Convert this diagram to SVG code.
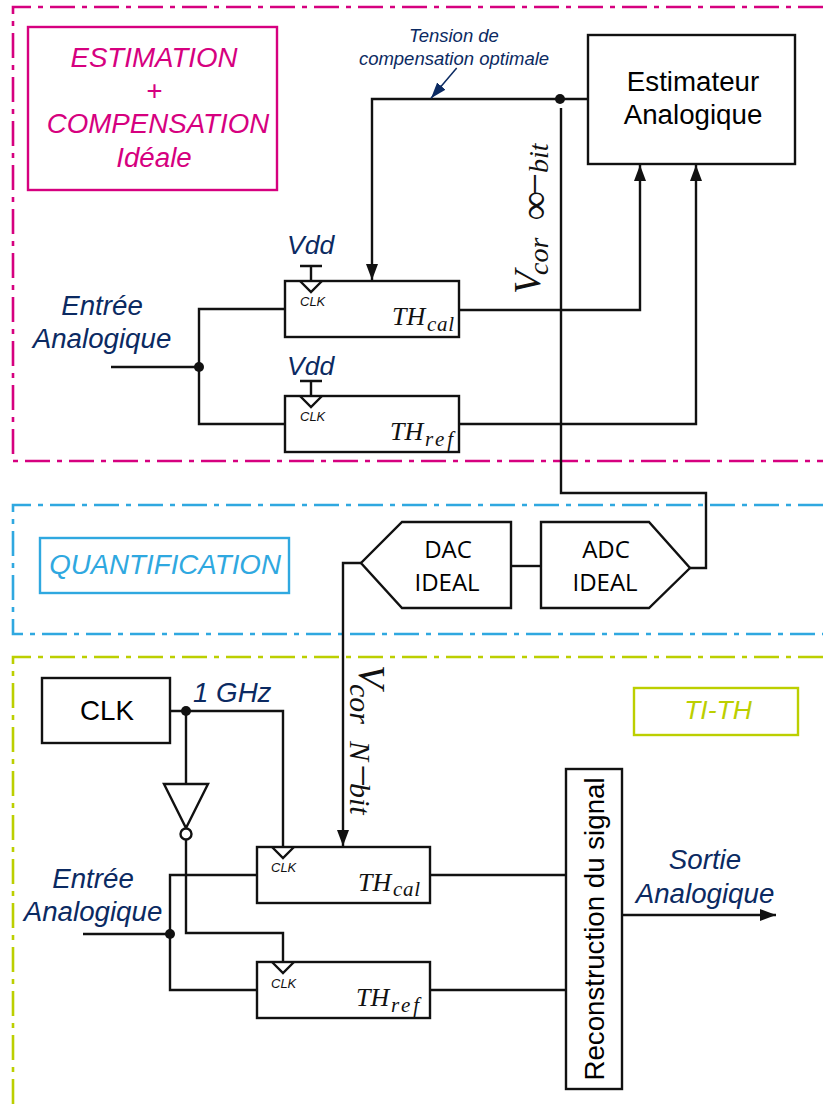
<svg xmlns="http://www.w3.org/2000/svg" width="823" height="1110" viewBox="0 0 823 1110">
<style>
text{font-family:"Liberation Sans",Arial,sans-serif}
.w{fill:none;stroke:#111;stroke-width:2.400}
.b{fill:#fff;stroke:#111;stroke-width:2.400}
.navy{fill:#0b2a62;font-style:italic;font-size:27.700px}
.vdd{font-size:26.500px}
.blk{fill:#000;font-size:27.700px}
.pk{fill:#d6007f;font-style:italic;font-size:27.700px}
.clk{font-size:13px;font-style:italic;fill:#111}
.m{font-family:"Liberation Serif","DejaVu Serif",serif;font-style:italic;fill:#111}
.th{font-size:26px}
.sub{font-size:21px}
.sym{font-size:40px}
.q{font-size:24px;fill:#000}
.d{fill:none;stroke-width:2.600;stroke-dasharray:25 7 5 7}
</style>
<defs>
<marker id="a" markerUnits="userSpaceOnUse" markerWidth="17" markerHeight="14" refX="16" refY="6.500" orient="auto"><path d="M0 0.500L16 6.500L0 12.500Z" fill="#111"/></marker>
<marker id="n" markerUnits="userSpaceOnUse" markerWidth="17" markerHeight="13" refX="16" refY="6" orient="auto"><path d="M0 0.500L16 6L0 11.500Z" fill="#0b2a62"/></marker>
</defs>
<g id="frames">
<path class="d" stroke="#d6007f" d="M823 7H13V461H823"/>
<path class="d" stroke="#2fa8e0" d="M823 505H13V634H823"/>
<path class="d" stroke="#bccf00" d="M823 657H13V1110"/>
</g>
<g id="connectors">
<path class="w" d="M588 99H372V280" marker-end="url(#a)"/>
<path class="w" d="M561 108V493H706V568H690"/>
<path class="w" d="M459 310H640V165" marker-end="url(#a)"/>
<path class="w" d="M459 424H696V165" marker-end="url(#a)"/>
<path class="w" d="M285 309H199V424H285M111 367H199"/>
<path class="w" d="M311 266V281M300 266H322M311 381V396M300 381H322"/>
<path class="w" d="M511 566H541"/>
<path class="w" d="M361 563H343V846" marker-end="url(#a)"/>
<path class="w" d="M170 711H283V847"/>
<path class="w" d="M186 711V784M186 840V933H283V961"/>
<path class="w" d="M257 875H170V990H257M83 934H170"/>
<path class="w" d="M430 875H566M430 990H566"/>
<path class="w" d="M622 915H776" marker-end="url(#a)"/>
<path d="M456.700 68L431 98.300" fill="none" stroke="#0b2a62" stroke-width="1.500" marker-end="url(#n)"/>
<circle cx="560" cy="99" r="5" fill="#111"/>
<circle cx="199" cy="367" r="5" fill="#111"/>
<circle cx="186" cy="711" r="5" fill="#111"/>
<circle cx="170" cy="934" r="5" fill="#111"/>
</g>
<g id="estimation-label"><rect x="28" y="27" width="249" height="163" fill="none" stroke="#d6007f" stroke-width="2.400"/>
<text class="pk" text-anchor="middle" x="154" y="67">ESTIMATION</text><text class="pk" text-anchor="middle" x="154" y="100" font-style="normal">+</text><text class="pk" text-anchor="middle" x="158" y="133">COMPENSATION</text><text class="pk" text-anchor="middle" x="154" y="167">Idéale</text></g>
<g id="estimateur"><rect class="b" x="588" y="35" width="207" height="129"/><text class="blk" text-anchor="middle" x="693" y="91">Estimateur</text><text class="blk" text-anchor="middle" x="693" y="124">Analogique</text></g>
<g id="tension-label"><text class="navy" style="font-size:18.500px" text-anchor="middle" x="454" y="42">Tension de</text><text class="navy" style="font-size:18.500px" text-anchor="middle" x="454" y="65">compensation optimale</text></g>
<g id="vcor-inf"><text class="m" font-size="38" transform="translate(540 294) rotate(-90)">V</text><text class="m" font-size="28" transform="translate(548 275) rotate(-90)"><tspan x="0">cor</tspan><tspan class="sym" x="55">∞</tspan><tspan class="sym" x="77">−</tspan><tspan x="102">bit</tspan></text></g>
<g id="input-top"><text class="navy" text-anchor="middle" x="102" y="315">Entrée</text><text class="navy" text-anchor="middle" x="102" y="348">Analogique</text></g>
<g id="th-cal-top"><rect class="b" x="285" y="281" width="174" height="56"/><path class="w" d="M300 281L311 292L322 281"/><text class="clk" x="300" y="306">CLK</text><text class="m th" x="392" y="325">TH</text><text class="m sub" textLength="27" x="427" y="331">cal</text></g>
<text class="navy vdd" x="287" y="254">Vdd</text>
<g id="th-ref-top"><rect class="b" x="285" y="396" width="174" height="56"/><path class="w" d="M300 396L311 407L322 396"/><text class="clk" x="300" y="421">CLK</text><text class="m th" x="390" y="440">TH</text><text class="m sub" textLength="28" x="425" y="446">ref</text></g>
<text class="navy vdd" x="287" y="375">Vdd</text>
<g id="quant-label"><rect x="40" y="538" width="249" height="55" fill="none" stroke="#2fa8e0" stroke-width="2.400"/><text fill="#2fa8e0" font-style="italic" font-size="27.700" text-anchor="middle" x="165" y="574">QUANTIFICATION</text></g>
<g id="dac"><path class="b" d="M511 522V608H402L361 563L402 522Z"/><text class="q" style="font-family:'Open Sans',sans-serif" text-anchor="middle" x="448" y="558">DAC</text><text class="q" style="font-family:'Open Sans',sans-serif" text-anchor="middle" x="447" y="591">IDEAL</text></g>
<g id="adc"><path class="b" d="M541 522V608H649L690 568L649 522Z"/><text class="q" style="font-family:'Open Sans',sans-serif" text-anchor="middle" x="606" y="558">ADC</text><text class="q" style="font-family:'Open Sans',sans-serif" text-anchor="middle" x="605" y="591">IDEAL</text></g>
<g id="titi-label"><rect x="634" y="688" width="164" height="47" fill="none" stroke="#bccf00" stroke-width="2.400"/><text fill="#bccf00" font-style="italic" font-size="26.500" text-anchor="middle" x="718" y="719">TI-TH</text></g>
<g id="clk"><rect class="b" x="42" y="678" width="128" height="65"/><text class="blk" text-anchor="middle" x="107" y="720">CLK</text></g>
<text class="navy" x="193" y="702">1 GHz</text>
<g id="vcor-n"><text class="m" font-size="38" transform="translate(359 665) rotate(90)">V</text><text class="m" font-size="30" transform="translate(350 684) rotate(90)"><tspan x="0">cor</tspan><tspan x="57">N</tspan><tspan class="sym" x="78">−</tspan><tspan x="99">bit</tspan></text></g>
<g id="inverter"><path class="b" d="M164 784H208L186 828Z"/><circle class="b" cx="186" cy="834" r="5.500"/></g>
<g id="input-bottom"><text class="navy" text-anchor="middle" x="93" y="888">Entrée</text><text class="navy" text-anchor="middle" x="93" y="921">Analogique</text></g>
<g id="th-cal-bottom"><rect class="b" x="257" y="847" width="173" height="56"/><path class="w" d="M272 847L283 858L294 847"/><text class="clk" x="271" y="872">CLK</text><text class="m th" x="358" y="891">TH</text><text class="m sub" textLength="27" x="393" y="896">cal</text></g>
<g id="th-ref-bottom"><rect class="b" x="257" y="962" width="173" height="56"/><path class="w" d="M272 962L283 973L294 962"/><text class="clk" x="271" y="988">CLK</text><text class="m th" x="356" y="1006">TH</text><text class="m sub" textLength="28" x="391" y="1012">ref</text></g>
<g id="reconstruction"><rect class="b" x="566" y="769" width="56" height="320"/><text class="blk" text-anchor="middle" transform="translate(604 929) rotate(-90)">Reconstruction du signal</text></g>
<g id="output"><text class="navy" text-anchor="middle" x="705" y="869">Sortie</text><text class="navy" text-anchor="middle" x="705" y="903">Analogique</text></g>
</svg>
